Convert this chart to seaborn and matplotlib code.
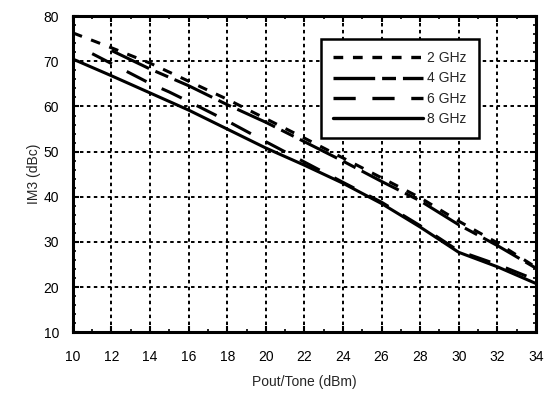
import numpy as np
import pandas as pd
import matplotlib
matplotlib.use("Agg")
import matplotlib.pyplot as plt
from matplotlib.ticker import MultipleLocator
import seaborn as sns

# values
x_2ghz = [10, 12, 14, 16, 18, 20, 22, 24, 26, 28, 30, 32, 34]
y_2ghz = [76.3, 73.0, 69.6, 65.6, 61.6, 57.3, 53.0, 48.6, 44.2, 39.8, 34.6, 29.8, 24.4]

x_4ghz = [12, 14, 16, 18, 20, 22, 24, 26, 28, 30, 32, 34]
y_4ghz = [72.4, 68.3, 64.6, 60.4, 56.5, 52.2, 47.9, 43.4, 39.1, 33.8, 29.2, 24.2]

x_6ghz = [11, 12, 13, 14, 15, 16, 18, 20, 22, 24, 26, 28, 30, 32, 34]
y_6ghz = [71.7, 69.5, 67.3, 65.1, 63.2, 61.1, 56.8, 52.2, 47.7, 43.2, 38.8, 33.6, 28.0, 25.0, 21.6]

x_8ghz = [10, 12, 14, 16, 18, 20, 22, 24, 26, 28, 30, 32, 34]
y_8ghz = [70.5, 66.8, 63.0, 59.2, 55.0, 50.8, 47.0, 43.0, 38.5, 33.3, 27.7, 24.5, 20.8]

labels = ["2 GHz", "4 GHz", "6 GHz", "8 GHz"]

frames = []
for lab, xs, ys in zip(labels, [x_2ghz, x_4ghz, x_6ghz, x_8ghz],
                       [y_2ghz, y_4ghz, y_6ghz, y_8ghz]):
    frames.append(pd.DataFrame({"Pout": xs, "IM3": ys, "Freq": lab}))
df = pd.concat(frames, ignore_index=True)

sns.set_theme(style="ticks")
plt.rcParams["font.family"] = ["Liberation Sans", "DejaVu Sans"]
plt.rcParams["lines.scale_dashes"] = False

fig = plt.figure(figsize=(5.44, 3.95), dpi=100)
ax = fig.add_axes([0.134, 0.159, 0.851, 0.800])

dash_styles = {
    "2 GHz": (7, 7),
    "4 GHz": (30, 5, 10, 5),
    "6 GHz": (16, 12),
    "8 GHz": "",
}
sns.lineplot(data=df, x="Pout", y="IM3", hue="Freq", style="Freq",
             palette=["black"] * 4, dashes=dash_styles, linewidth=2.2,
             sort=False, ax=ax)

ax.set_xlim(10, 34)
ax.set_ylim(10, 80)
ax.xaxis.set_major_locator(MultipleLocator(2))
ax.xaxis.set_minor_locator(MultipleLocator(1))
ax.yaxis.set_major_locator(MultipleLocator(10))
ax.yaxis.set_minor_locator(MultipleLocator(2))

ax.grid(True, which="major", color="black", linestyle=(0, (2.5, 2.5)), linewidth=1.4)
for s in ax.spines.values():
    s.set_visible(True)
    s.set_linewidth(2.2)
    s.set_color("black")
ax.tick_params(which="both", direction="in", top=True, right=True, colors="black",
               labelsize=10)
ax.tick_params(axis="x", which="both", pad=13)
ax.tick_params(axis="y", which="both", pad=10)
ax.tick_params(which="major", length=4, width=1.5)
ax.tick_params(which="minor", length=2.5, width=1.2)

ax.set_xlabel("Pout/Tone (dBm)", fontsize=10, labelpad=8)
ax.set_ylabel("IM3 (dBc)", fontsize=10, labelpad=2)

leg = ax.legend(loc="upper left", bbox_to_anchor=(0.535, 0.929), borderaxespad=0,
                frameon=True, fancybox=False, fontsize=10, handlelength=6.5,
                handletextpad=0.25, labelspacing=0.45, borderpad=0.9,
                framealpha=1)
leg.get_frame().set_edgecolor("black")
leg.get_frame().set_linewidth(1.8)
for line in leg.get_lines():
    line.set_linewidth(2.4)

fig.savefig("out.png", dpi=100)
